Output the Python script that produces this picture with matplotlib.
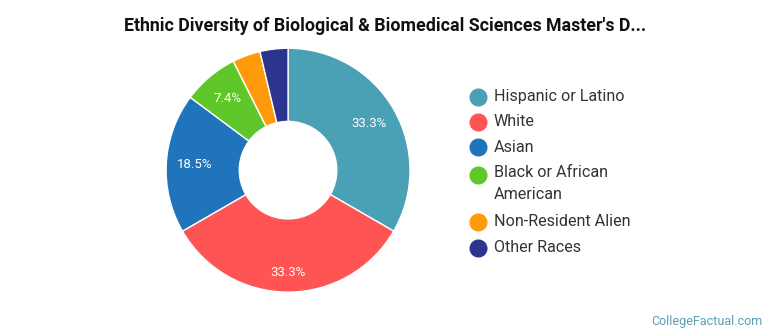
import numpy as np
import matplotlib.pyplot as plt

plt.rcParams['font.family'] = ['Roboto', 'DejaVu Sans']

# data (share of degrees, %)
labels = ["Hispanic or Latino", "White", "Asian", "Black or African\nAmerican",
          "Non-Resident Alien", "Other Races"]
shares = [33.3, 33.3, 18.5, 7.4, 3.7, 3.7]
colors = ["#4aa0b5", "#fe5454", "#1f74bc", "#5fc72a", "#ff9a0a", "#2b3590"]

fig = plt.figure(figsize=(7.7, 3.35), dpi=100)

ax = fig.add_axes([0.2156, 0.128, 0.317, 0.728])
wedges, texts, autotexts = ax.pie(
    shares, colors=colors, startangle=90, counterclock=False,
    wedgeprops=dict(width=0.6, edgecolor='white', linewidth=1),
    autopct=lambda p: f"{p:.1f}%" if p >= 5 else "", pctdistance=0.77,
    textprops=dict(color='white', fontsize=9.5))
# bottom label sits a bit further out in the original
x0, y0 = autotexts[1].get_position()
autotexts[1].set_position((x0, y0 * 0.84 / 0.77))
ax.set_xlim(-1, 1)
ax.set_ylim(-1, 1)
ax.set_aspect('equal')

fig.text(0.5, 0.922, "Ethnic Diversity of Biological & Biomedical Sciences Master's D...",
         ha='center', va='center', fontsize=12.8, fontweight='bold', color='#111111')

# legend drawn by hand (pixel rows from the top)
leg_y = [97, 122, 147, 175, 222, 248]
for lab, col, y in zip(labels, colors, leg_y):
    fy = 1 - y / 335
    fig.add_artist(plt.Line2D([478 / 770], [fy], marker='o', markersize=12,
                              color=col, transform=fig.transFigure))
    if '\n' in lab:
        fig.text(494 / 770, fy + 10 / 335, lab, ha='left', va='top', fontsize=11.6,
                 color='#333333', linespacing=1.55)
    else:
        fig.text(494 / 770, fy, lab, ha='left', va='center', fontsize=11.6,
                 color='#333333')

fig.text(0.99, 0.04, "CollegeFactual.com", ha='right', va='center', fontsize=9,
         color='#5a9fb5')

fig.savefig('out.png', dpi=100)
